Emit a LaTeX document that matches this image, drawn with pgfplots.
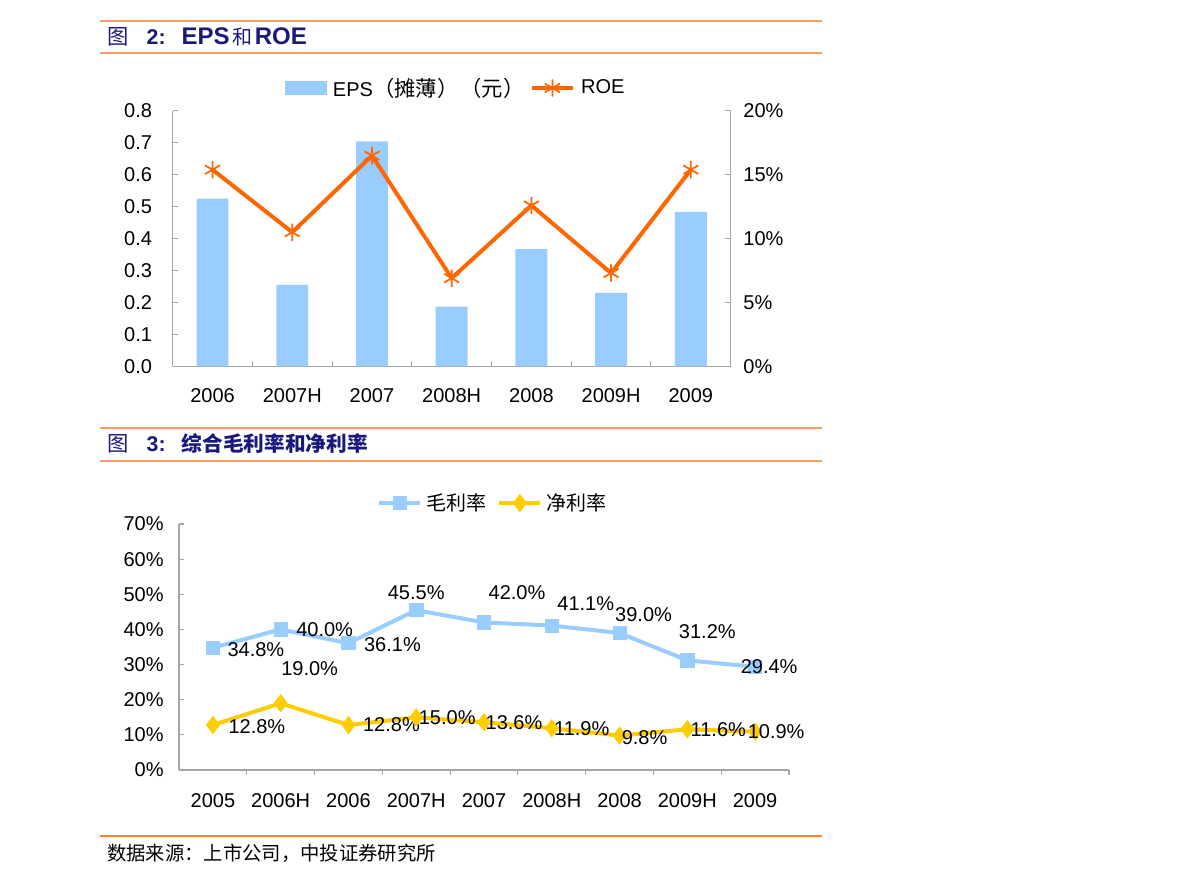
\documentclass[border=0pt]{standalone}
\usepackage{pgfplots}
\pgfplotsset{compat=1.18}
\usepackage{pgfplotstable}
\usepackage{fontspec}
\setmainfont{Liberation Sans}
\newfontfamily\cjk{Noto Sans CJK SC}

\definecolor{barblue}{RGB}{153,204,255}
\definecolor{roeorange}{RGB}{255,102,0}
\definecolor{netgold}{RGB}{255,204,0}
\definecolor{rulelight}{RGB}{255,155,100}
\definecolor{rulefoot}{RGB}{255,128,40}
\definecolor{titlenavy}{RGB}{25,25,125}
\definecolor{axisgray}{RGB}{165,165,165}

% EPS (diluted, yuan) and ROE (%) by reporting period
\pgfplotstableread{
x eps roe
0 0.525 15.4
1 0.255 10.5
2 0.705 16.5
3 0.187 6.9
4 0.367 12.6
5 0.230 7.3
6 0.484 15.4
}\epsroe

% gross and net margin (%), with label offsets in px (dx right, dy up)
\pgfplotstableread{
x gross dxg dyg net dxn dyn
0 34.8 43 -2 12.8 44 -2
1 40.0 44 0 19.0 29 35
2 36.1 44 -1 12.8 43 0
3 45.5 0 17 15.0 31 0
4 42.0 33 30 13.6 30 0
5 41.1 34 22 11.9 30 0
6 39.0 24 18 9.8 25 -2
7 31.2 20 29 11.6 31 0
8 29.4 14 0 10.9 21 0
}\margins

\pgfplotsset{
  chartbase/.style={
    scale only axis,
    anchor=south west,
    font=\fontsize{15}{17}\selectfont,
    /pgf/number format/assume math mode=true,
    axis line style={axisgray, line width=0.8pt},
    tick style={axisgray, line width=0.8pt},
    major tick length=4pt,
    minor tick length=4pt,
    tick align=inside,
    clip=false,
  },
  linelegend/.style={
    legend image code/.code={
      \draw[mark repeat=2,mark phase=2,##1] plot coordinates {(0pt,0pt) (15.5pt,0pt) (31pt,0pt)};
    }
  },
}

\begin{document}
\begin{tikzpicture}[x=0.75pt, y=-0.75pt]
\useasboundingbox (0,0) rectangle (1191,883);

% ---- Figure 2 header ----
\draw[rulelight, line width=1.5pt] (100,21) -- (822,21);
\draw[rulelight, line width=1.5pt] (100,52.5) -- (822,52.5);
\node[anchor=west, text=titlenavy, font=\fontsize{16}{18}\selectfont, inner sep=0pt] at (107,37)
  {{\cjk 图}\hspace{0.85em}\textbf{2:}\hspace{0.75em}{\fontsize{18}{20}\selectfont\textbf{EPS}}\hspace{0.12em}{\cjk\fontsize{15}{16}\selectfont 和}\hspace{0.12em}{\fontsize{18}{20}\selectfont\textbf{ROE}}};

% ---- Figure 2: EPS bars (left axis) ----
\begin{axis}[chartbase,
  at={(129.5pt,-274.7pt)},
  width=418.5pt, height=191.5pt,
  xmin=-0.5, xmax=6.5, ymin=0, ymax=0.8,
  axis x line*=bottom, axis y line*=left,
  xtick={0,...,6},
  xticklabels={2006,2007H,2007,2008H,2008,2009H,2009},
  major x tick style={draw=none},
  minor xtick={0.5,1.5,2.5,3.5,4.5,5.5},
  xticklabel style={yshift=-13pt},
  ytick={0,0.1,0.2,0.3,0.4,0.5,0.6,0.7,0.8},
  yticklabel style={xshift=-12pt, /pgf/number format/.cd, fixed, fixed zerofill, precision=1},
]
\addplot[ybar, bar width=0.4, fill=barblue, draw=none] table[x=x, y=eps] {\epsroe};
\end{axis}

% ---- Figure 2: ROE line (right axis) ----
\begin{axis}[chartbase,
  at={(129.5pt,-274.7pt)},
  width=418.5pt, height=191.5pt,
  xmin=-0.5, xmax=6.5, ymin=0, ymax=20,
  axis x line=none, axis y line*=right,
  ytick={0,5,10,15,20},
  yticklabel={\pgfmathprintnumber{\tick}\%},
  yticklabel style={xshift=6pt},
  legend style={at={(0.508,1.09)}, anchor=center, draw=none, fill=none,
    legend columns=-1, inner sep=0pt,
    font=\fontsize{15}{17}\selectfont,
    /tikz/every odd column/.append style={column sep=2.5pt},
    /tikz/every even column/.append style={column sep=2pt}},
]
\addlegendimage{legend image code/.code={\fill[barblue] (0pt,-5pt) rectangle (31pt,5pt);}}
\addlegendentry{EPS{\cjk\fontsize{16}{17}\selectfont （摊薄）\hspace{0.1em}（元）}}
\addplot[roeorange, line width=3pt, mark=asterisk, mark size=6.5pt,
  mark options={line width=1.3pt}, linelegend] table[x=x, y=roe] {\epsroe};
\addlegendentry{ROE}
\end{axis}

% ---- Figure 3 header ----
\draw[rulelight, line width=1.5pt] (100,428) -- (822,428);
\draw[rulelight, line width=1.5pt] (100,460.5) -- (822,460.5);
\node[anchor=west, text=titlenavy, font=\fontsize{16}{18}\selectfont, inner sep=0pt] at (107,444)
  {{\cjk 图}\hspace{0.85em}\textbf{3:}\hspace{0.75em}{\cjk\bfseries\fontsize{15.5}{18}\selectfont 综合毛利率和净利率}};

% ---- Figure 3: gross and net margin ----
\begin{axis}[chartbase,
  at={(134.25pt,-577.5pt)},
  width=457.5pt, height=184.5pt,
  xmin=-0.5, xmax=8.5, ymin=0, ymax=70,
  axis x line*=bottom, axis y line*=left,
  xtick={0,...,8},
  xticklabels={2005,2006H,2006,2007H,2007,2008H,2008,2009H,2009},
  major x tick style={draw=none},
  minor xtick={0.5,1.5,2.5,3.5,4.5,5.5,6.5,7.5,8.5},
  minor x tick style={yshift=-4pt},
  xticklabel style={yshift=-14pt},
  ytick={0,10,20,30,40,50,60,70},
  yticklabel={\pgfmathprintnumber{\tick}\%},
  yticklabel style={xshift=-8pt},
  legend style={at={(0.515,1.085)}, anchor=center, draw=none, fill=none,
    legend columns=-1, inner sep=0pt,
    font=\cjk\fontsize{15}{17}\selectfont,
    /tikz/every odd column/.append style={column sep=1pt},
    /tikz/every even column/.append style={column sep=6pt}},
  nodes near coords={\pgfmathprintnumber[fixed,fixed zerofill,precision=1]{\pgfplotspointmeta}\%},
  every node near coord/.append style={anchor=center, text=black,
    font=\fontsize{15}{17}\selectfont, xshift=\dx*0.75pt, yshift=\dy*0.75pt},
]
\addplot[barblue, line width=3pt, mark=square*, mark size=5pt,
  mark options={fill=barblue, draw=barblue, line width=0.5pt}, linelegend,
  point meta=y,
  visualization depends on={\thisrow{dxg} \as \dx},
  visualization depends on={\thisrow{dyg} \as \dy},
] table[x=x, y=gross] {\margins};
\addlegendentry{毛利率}
\addplot[netgold, line width=3pt, mark=diamond*, mark size=6.5pt,
  mark options={fill=netgold, draw=netgold, line width=0.5pt}, linelegend,
  point meta=y,
  visualization depends on={\thisrow{dxn} \as \dx},
  visualization depends on={\thisrow{dyn} \as \dy},
] table[x=x, y=net] {\margins};
\addlegendentry{净利率}
\end{axis}

% ---- source note ----
\draw[rulefoot, line width=1.5pt] (100,835.5) -- (822,835.5);
\node[anchor=west, font=\cjk\fontsize{14.5}{16}\selectfont, inner sep=0pt] at (107,853)
  {数据来源：上市公司，中投证券研究所};
\end{tikzpicture}
\end{document}
